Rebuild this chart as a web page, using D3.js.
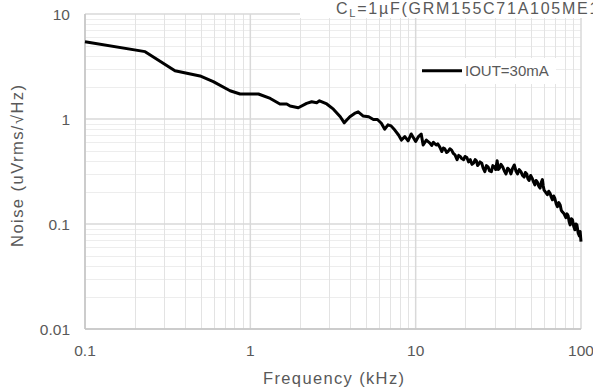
<!DOCTYPE html>
<html>
<head>
<meta charset="utf-8">
<script src="https://cdn.jsdelivr.net/npm/d3@7"></script>
<style>
  body { margin: 0; background: #fff; }
  text { font-family: "Liberation Sans", Arial, sans-serif; fill: #595959; }
</style>
</head>
<body>
<div id="container"></div>
<script>
//svg size
const w = 593
const h = 390

//data (kHz, uVrms/rtHz)
const freq = [0.1, 0.231, 0.35, 0.496, 0.597, 0.754, 0.867, 1.12, 1.32, 1.51, 1.66, 1.74, 1.95, 2.19, 2.35, 2.52, 2.62, 2.9, 3.18, 3.5, 3.7, 3.83, 4.0, 4.27, 4.49, 4.8, 5.2, 5.55, 5.87, 6.2, 6.5, 6.8, 7.1, 7.5, 7.9, 8.2, 8.6, 9.0, 9.4, 10.0, 10.4, 10.8, 11.1, 11.6,
  12.2, 12.5, 12.8, 13.3, 13.6, 14.0, 14.4, 14.7, 15.0, 15.4, 15.7, 16.1, 16.5, 16.9, 17.3, 17.8, 18.2, 18.6, 19.0, 19.5, 19.9, 20.4, 20.9, 21.4, 21.9, 22.4, 22.9, 23.3, 23.7, 24.0, 24.5, 25.1, 25.6, 26.2, 26.8, 27.4, 28.0, 28.7, 29.3, 30.0, 30.5, 31.1, 31.6, 32.1, 32.8, 33.6, 34.4, 35.2, 36.0, 36.8, 37.7, 38.6, 39.5, 40.4, 41.3, 42.3, 43.3, 44.3, 45.3, 46.1, 47.0, 47.7, 48.5, 49.6, 50.8, 51.7, 52.6, 53.5, 54.5, 55.5, 56.6, 57.5, 58.4, 59.1, 59.8, 61.2, 62.6, 63.8, 65, 66.1, 67.2, 68.3, 69.5, 70.8, 72, 73.4, 74.8, 76, 77.3, 79, 81, 82.3, 83.6, 84.8, 86, 87.4, 88.8, 90.3, 91.8, 93.1, 94.5, 96.1, 97.7, 98.8, 100]
const noise = [5.45, 4.38, 2.88, 2.57, 2.27, 1.86, 1.73, 1.73, 1.57, 1.39, 1.39, 1.33, 1.28, 1.41, 1.46, 1.43, 1.49, 1.39, 1.24, 1.05, 0.92, 0.978, 1.05, 1.13, 1.17, 1.07, 1.05, 0.99, 0.99, 0.91, 0.80, 0.88, 0.86, 0.78, 0.70, 0.63, 0.68, 0.62, 0.72, 0.61, 0.68, 0.72, 0.565, 0.63,
  0.59, 0.56, 0.60, 0.565, 0.58, 0.54, 0.49, 0.53, 0.52, 0.48, 0.49, 0.52, 0.505, 0.47, 0.455, 0.41, 0.45, 0.44, 0.42, 0.41, 0.44, 0.43, 0.39, 0.41, 0.37, 0.38, 0.41, 0.40, 0.36, 0.37, 0.39, 0.38, 0.34, 0.315, 0.36, 0.35, 0.32, 0.315, 0.36, 0.35, 0.33, 0.40, 0.33, 0.34, 0.37, 0.35, 0.32, 0.30, 0.34, 0.33, 0.30, 0.34, 0.365, 0.32, 0.30, 0.33, 0.315, 0.29, 0.28, 0.31, 0.30, 0.27, 0.26, 0.29, 0.27, 0.25, 0.236, 0.26, 0.25, 0.23, 0.22, 0.25, 0.265, 0.23, 0.21, 0.20, 0.19, 0.205, 0.196, 0.18, 0.17, 0.185, 0.175, 0.155, 0.146, 0.16, 0.152, 0.135, 0.13, 0.125, 0.115, 0.125, 0.12, 0.105, 0.098, 0.112, 0.11, 0.095, 0.088, 0.1, 0.098, 0.082, 0.077, 0.085, 0.068]

const xTickLabels = ['0.1', '1', '10', '100']
const yTickLabels = ['0.01', '0.1', '1', '10']
const seriesName = 'IOUT=30mA'

const margin = {top: 14, right: 12, bottom: 61, left: 85}

//scales
const x = d3.scaleLog()
    .domain([0.1, 100])
    .range([margin.left, w - margin.right])
const y = d3.scaleLog()
    .domain([0.01, 10])
    .range([h - margin.bottom, margin.top])

const isMajor = function(v) {
    return Math.abs(Math.log10(v) - Math.round(Math.log10(v))) < 1e-6
}

//create svg
const svg = d3.select('#container')
    .append('svg')
    .attr('width', w)
    .attr('height', h)

//horizontal grid
svg.append('g')
    .selectAll('line')
    .data(y.ticks().filter(function(v) { return !isMajor(v) }))
    .enter()
    .append('line')
    .attr('x1', margin.left)
    .attr('x2', w - margin.right)
    .attr('y1', function(d) { return Math.round(y(d)) + 0.5 })
    .attr('y2', function(d) { return Math.round(y(d)) + 0.5 })
    .attr('stroke', '#ededed')

//vertical grid
svg.append('g')
    .selectAll('line')
    .data(x.ticks().filter(function(v) { return !isMajor(v) }))
    .enter()
    .append('line')
    .attr('x1', function(d) { return Math.round(x(d)) + 0.5 })
    .attr('x2', function(d) { return Math.round(x(d)) + 0.5 })
    .attr('y1', margin.top)
    .attr('y2', h - margin.bottom)
    .attr('stroke', '#e3e3e3')

//major grid
svg.append('g')
    .selectAll('line')
    .data(y.ticks().filter(isMajor))
    .enter()
    .append('line')
    .attr('x1', margin.left)
    .attr('x2', w - margin.right)
    .attr('y1', function(d) { return y(d) })
    .attr('y2', function(d) { return y(d) })
    .attr('stroke', '#d9d9d9')
    .attr('stroke-width', 1.5)
svg.append('g')
    .selectAll('line')
    .data(x.ticks().filter(isMajor))
    .enter()
    .append('line')
    .attr('x1', function(d) { return x(d) })
    .attr('x2', function(d) { return x(d) })
    .attr('y1', margin.top)
    .attr('y2', h - margin.bottom)
    .attr('stroke', '#d9d9d9')
    .attr('stroke-width', 1.5)

//axis lines
svg.append('line')
    .attr('x1', margin.left).attr('x2', margin.left)
    .attr('y1', margin.top).attr('y2', h - margin.bottom)
    .attr('stroke', '#c4c4c4').attr('stroke-width', 1.5)
svg.append('line')
    .attr('x1', margin.left).attr('x2', w - margin.right)
    .attr('y1', h - margin.bottom).attr('y2', h - margin.bottom)
    .attr('stroke', '#c4c4c4').attr('stroke-width', 1.5)

//tick labels
svg.append('g')
    .selectAll('text')
    .data(xTickLabels)
    .enter()
    .append('text')
    .attr('x', function(d) { return x(+d) })
    .attr('y', 356)
    .attr('text-anchor', 'middle')
    .style('font-size', '15.5px')
    .text(function(d) { return d })
svg.append('g')
    .selectAll('text')
    .data(yTickLabels)
    .enter()
    .append('text')
    .attr('x', 70)
    .attr('y', function(d) { return y(+d) + 5.5 })
    .attr('text-anchor', 'end')
    .style('font-size', '15.5px')
    .text(function(d) { return d })

//axis titles
svg.append('text')
    .attr('x', 333.5)
    .attr('y', 384)
    .attr('text-anchor', 'middle')
    .attr('textLength', 141)
    .attr('lengthAdjust', 'spacing')
    .style('font-size', '16.5px')
    .text('Frequency (kHz)')
svg.append('text')
    .attr('transform', 'translate(23,166) rotate(-90)')
    .attr('text-anchor', 'middle')
    .attr('textLength', 162)
    .attr('lengthAdjust', 'spacing')
    .style('font-size', '16.5px')
    .text('Noise (uVrms/√Hz)')

//data line
const line = d3.line()
    .x(function(d) { return x(d[0]) })
    .y(function(d) { return y(d[1]) })

svg.append('path')
    .datum(d3.zip(freq, noise))
    .attr('fill', 'none')
    .attr('stroke', '#000')
    .attr('stroke-width', 3)
    .attr('stroke-linejoin', 'round')
    .attr('d', line)

//title box (covers grid top right), text runs past the right edge like the original
svg.append('rect')
    .attr('x', 300).attr('y', 0)
    .attr('width', w - 300).attr('height', 18)
    .attr('fill', '#fff')
const title = svg.append('text')
    .attr('x', 336)
    .attr('y', 13.5)
    .style('font-size', '16px')
    .style('letter-spacing', '1.75px')
title.append('tspan').text('C')
title.append('tspan')
    .attr('dy', 3)
    .style('font-size', '11px')
    .text('L')
title.append('tspan')
    .attr('dy', -3)
    .text('=1µF(GRM155C71A105ME15)')

//legend
const legend = svg.append('g')
legend.append('rect')
    .attr('x', 417).attr('y', 58)
    .attr('width', 139).attr('height', 26)
    .attr('fill', '#fff')
legend.append('line')
    .attr('x1', 422).attr('x2', 462)
    .attr('y1', 70.7).attr('y2', 70.7)
    .attr('stroke', '#000')
    .attr('stroke-width', 3)
legend.append('text')
    .attr('x', 465)
    .attr('y', 76)
    .style('font-size', '15px')
    .text(seriesName)
</script>
</body>
</html>
